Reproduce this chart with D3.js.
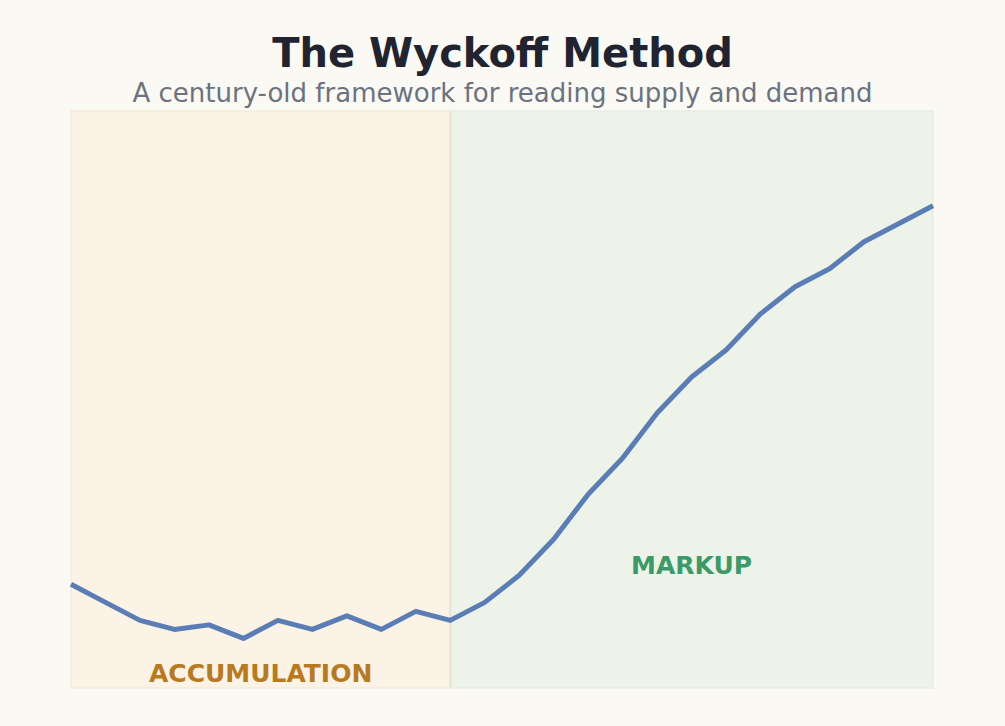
<!DOCTYPE html>
<html>
<head>
<meta charset="utf-8">
<script src="https://cdn.jsdelivr.net/npm/d3@7"></script>
<style>
    body { margin: 0; background: #faf9f4; }
    text { font-family: "DejaVu Sans", sans-serif; }
</style>
</head>
<body>
<script>
// price path, one value per period
var periods = d3.range(26);
var prices = [23, 19, 15, 13, 14, 11, 15, 13, 16, 13, 17, 15,
              19, 25, 33, 43, 51, 61, 69, 75, 83, 89, 93, 99, 103, 107];

// market phases (start / end period)
var phaseNames = ["ACCUMULATION", "MARKUP"];
var phaseStart = [0, 11];
var phaseEnd = [11, 25];

var phaseFill = ["#faf3e6", "#eef3ea"];
var phaseStroke = ["#f5e8cf", "#dfeadb"];
var phaseText = ["#b8791f", "#3b9b68"];
// label height in price units
var phaseLabelAt = [1.4, 25.4];

var width = 1005,
    height = 726;

var svg = d3.select("body")
    .append("svg")
    .attr("width", width)
    .attr("height", height);

svg.append("rect")
    .attr("width", width)
    .attr("height", height)
    .attr("fill", "#faf9f4");

var x = d3.scaleLinear()
    .domain([0, 25])
    .range([71, 933]);

var y = d3.scaleLinear()
    .domain([0, 128])
    .range([688, 111]);

// phase backgrounds
svg.selectAll(".phase")
    .data(phaseNames)
    .enter()
    .append("rect")
    .attr("class", "phase")
    .attr("x", function(d, i){ return x(phaseStart[i]); })
    .attr("y", y(128))
    .attr("width", function(d, i){ return x(phaseEnd[i]) - x(phaseStart[i]); })
    .attr("height", y(0) - y(128))
    .attr("fill", function(d, i){ return phaseFill[i]; })
    .attr("stroke", function(d, i){ return phaseStroke[i]; })
    .attr("stroke-width", 1);

// divider between phases
svg.append("line")
    .attr("x1", x(11)).attr("x2", x(11))
    .attr("y1", y(128)).attr("y2", y(0))
    .attr("stroke", "#e3e7d6")
    .attr("stroke-width", 2);

var line = d3.line()
    .x(function(d, i){ return x(periods[i]); })
    .y(function(d){ return y(d); });

svg.append("path")
    .datum(prices)
    .attr("d", line)
    .attr("fill", "none")
    .attr("stroke", "#5a7db5")
    .attr("stroke-width", 5)
    .attr("stroke-linejoin", "round");

svg.selectAll(".phase-label")
    .data(phaseNames)
    .enter()
    .append("text")
    .attr("class", "phase-label")
    .attr("x", function(d, i){ return (x(phaseStart[i]) + x(phaseEnd[i])) / 2; })
    .attr("y", function(d, i){ return y(phaseLabelAt[i]); })
    .attr("text-anchor", "middle")
    .attr("font-size", 25)
    .attr("font-weight", "bold")
    .attr("fill", function(d, i){ return phaseText[i]; })
    .text(function(d){ return d; });

svg.append("text")
    .attr("x", width / 2)
    .attr("y", 67)
    .attr("text-anchor", "middle")
    .attr("font-size", 40)
    .attr("font-weight", "bold")
    .attr("fill", "#1f2430")
    .text("The Wyckoff Method");

svg.append("text")
    .attr("x", width / 2)
    .attr("y", 102)
    .attr("text-anchor", "middle")
    .attr("font-size", 26)
    .attr("fill", "#6b7280")
    .text("A century-old framework for reading supply and demand");
</script>
</body>
</html>
